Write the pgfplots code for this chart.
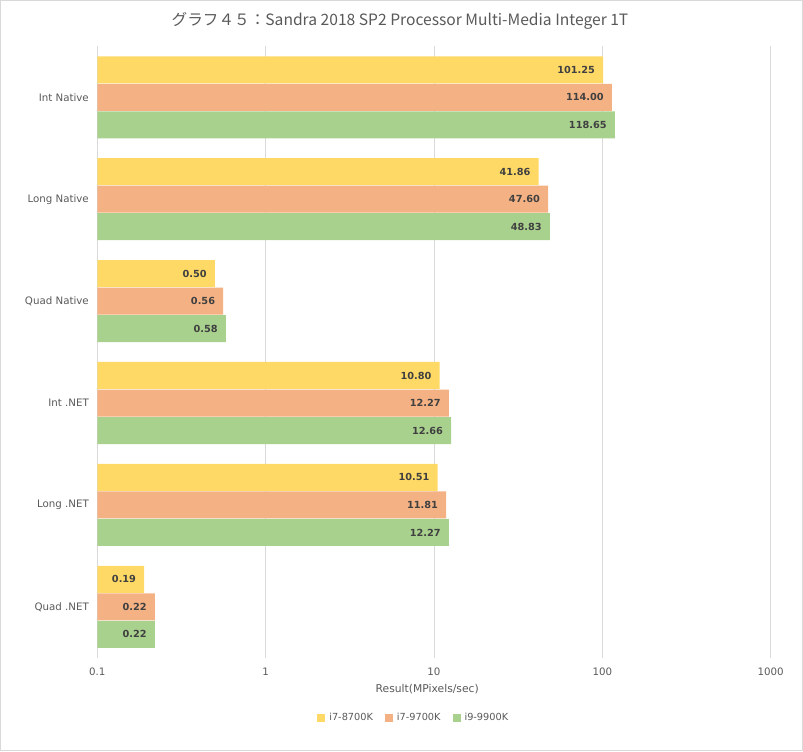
\documentclass[border=0pt]{standalone}
\usepackage{pgfplots}
\pgfplotsset{compat=1.18}
\usepackage{fontspec}
\setmainfont{DejaVu Sans}
\newfontfamily\cjk{Noto Sans CJK JP}
\definecolor{cY}{RGB}{255,217,102}
\definecolor{cO}{RGB}{244,177,131}
\definecolor{cG}{RGB}{169,209,142}
\definecolor{txt}{RGB}{89,89,89}
\definecolor{lbl}{RGB}{64,64,64}
\definecolor{grd}{RGB}{217,217,217}
\begin{document}
\begin{tikzpicture}
\draw[grd, line width=0.8bp] (-97bp,-93bp) rectangle (706bp,658bp);
\node[text=txt, font=\cjk\fontsize{15.7}{18}\selectfont] at (303bp,637bp) {グラフ４５：Sandra 2018 SP2 Processor Multi-Media Integer 1T};
\begin{axis}[
  at={(0,0)}, anchor=south west,
  scale only axis, width=674bp, height=612bp,
  xbar, bar width=0.265, log origin x=infty,
  xmode=log, xmin=0.1, xmax=1000,
  xtick={0.1,1,10,100,1000}, xticklabels={0.1,1,10,100,1000},
  minor xtick={},
  xminorgrids=false,
  ymin=-0.5, ymax=5.5, y dir=reverse,
  ytick={0,...,5},
  yticklabels={Int Native,Long Native,Quad Native,Int .NET,Long .NET,Quad .NET},
  xmajorgrids, grid style={grd, line width=0.8bp},
  axis x line*=bottom, axis y line*=left,
  x axis line style={draw=none},
  y axis line style={grd, line width=0.8bp},
  major tick length=0pt, minor tick length=0pt,
  tick label style={text=txt, font=\fontsize{10.3}{12}\selectfont},
  /pgf/number format/assume math mode=true,
  xticklabel style={yshift=-7bp},
  yticklabel style={xshift=-5bp},
  xlabel={Result(MPixels/sec)},
  xlabel style={text=txt, font=\fontsize{10.8}{12}\selectfont, at={(axis description cs:0.49,0)}, anchor=center, yshift=-31bp},
  nodes near coords, point meta=rawx,
  nodes near coords style={anchor=east, xshift=-8bp, inner sep=0pt, text=lbl,
    font=\bfseries\fontsize{9.8}{11}\selectfont,
    /pgf/number format/.cd, fixed, fixed zerofill, precision=2, 1000 sep={}},
  legend style={at={(0.47,-0.098)}, anchor=center, draw=none, legend columns=3,
    font=\fontsize{9.8}{11}\selectfont, text=txt,
    /tikz/every odd column/.append style={column sep=2bp},
    /tikz/every even column/.append style={column sep=10bp}},
  legend image code/.code={\fill[#1] (0bp,-4bp) rectangle (8bp,4bp);},
]
\addplot[fill=cY, draw=none, bar shift=-0.27] coordinates {(101.25,0) (41.86,1) (0.50,2) (10.80,3) (10.51,4) (0.19,5)};
\addplot[fill=cO, draw=none, bar shift=0] coordinates {(114.00,0) (47.60,1) (0.56,2) (12.27,3) (11.81,4) (0.22,5)};
\addplot[fill=cG, draw=none, bar shift=0.27] coordinates {(118.65,0) (48.83,1) (0.58,2) (12.66,3) (12.27,4) (0.22,5)};
\legend{i7-8700K,i7-9700K,i9-9900K}
\end{axis}
\end{tikzpicture}
\end{document}
